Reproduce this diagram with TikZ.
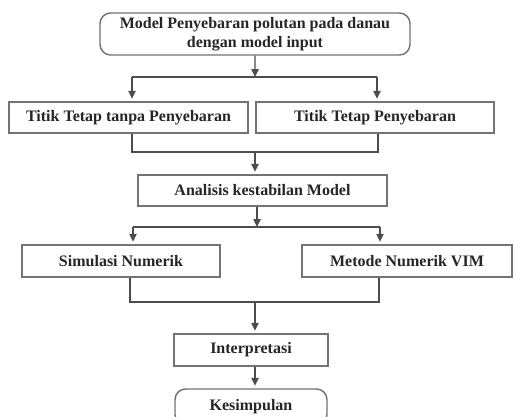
\documentclass[tikz,border=0pt]{standalone}
\usepackage{fontspec}
\setmainfont{Liberation Serif}
\usetikzlibrary{arrows.meta}

\begin{document}
\begin{tikzpicture}[x=1pt,y=1pt,scale=0.75,transform shape]
  \tikzstyle{BoxStyle}=[draw=black!55,line width=1.1pt,fill=white,inner sep=0pt,
    text=black!85,font=\bfseries\fontsize{16}{19}\selectfont]
  \tikzstyle{RoundStyle}=[BoxStyle,rounded corners=8pt]
  \tikzstyle{EdgeStyle}=[draw=black!70,line width=1pt]
  \tikzstyle{ArrowStyle}=[EdgeStyle,-{Triangle[length=6pt,width=5.5pt]},shorten >=2pt]
  \useasboundingbox (0,0) rectangle (514,-417);
  \node[RoundStyle,minimum width=310pt,minimum height=42pt,align=center] (model) at (255,-34)
    {Model Penyebaran polutan pada danau\\dengan model input};
  \node[BoxStyle,minimum width=239pt,minimum height=31pt] (tanpa) at (128.5,-117.5) {Titik Tetap tanpa Penyebaran};
  \node[BoxStyle,minimum width=238pt,minimum height=31pt] (tetap) at (375,-117.5) {Titik Tetap Penyebaran};
  \node[BoxStyle,minimum width=249pt,minimum height=31pt] (analisis) at (262.5,-190.5) {Analisis kestabilan Model};
  \node[BoxStyle,minimum width=198pt,minimum height=32pt] (simulasi) at (121,-261) {Simulasi Numerik};
  \node[BoxStyle,minimum width=210pt,minimum height=32pt] (vim) at (407,-261) {Metode Numerik VIM};
  \node[BoxStyle,minimum width=154pt,minimum height=32pt] (interp) at (251,-350) {Interpretasi};
  \node[RoundStyle,minimum width=152pt,minimum height=36pt] (kesimpulan) at (251,-407) {Kesimpulan};
  % junctions
  \coordinate (j1) at (255,-77);
  \coordinate (j1l) at (132,-77);
  \coordinate (j1r) at (377,-77);
  \coordinate (j2) at (255,-152);
  \coordinate (j2l) at (132,-152);
  \coordinate (j2r) at (378,-152);
  \coordinate (j3) at (257,-227);
  \coordinate (j3l) at (133,-227);
  \coordinate (j3r) at (380,-227);
  \coordinate (j4) at (255,-302);
  \coordinate (j4l) at (130,-302);
  \coordinate (j4r) at (379,-302);
  \draw[ArrowStyle,shorten >=0pt] (model) -- (j1);
  \draw[EdgeStyle] (j1l) -- (j1r);
  \draw[ArrowStyle] (j1l) -- (j1l |- tanpa.north);
  \draw[ArrowStyle] (j1r) -- (j1r |- tetap.north);
  \draw[EdgeStyle] (j2l |- tanpa.south) -- (j2l) -- (j2r) -- (j2r |- tetap.south);
  \draw[ArrowStyle] (j2) -- (j2 |- analisis.north);
  \draw[ArrowStyle,shorten >=0pt] (j3 |- analisis.south) -- (j3);
  \draw[EdgeStyle] (j3l) -- (j3r);
  \draw[ArrowStyle] (j3l) -- (j3l |- simulasi.north);
  \draw[ArrowStyle] (j3r) -- (j3r |- vim.north);
  \draw[EdgeStyle] (j4l |- simulasi.south) -- (j4l) -- (j4r) -- (j4r |- vim.south);
  \draw[ArrowStyle] (j4) -- (j4 |- interp.north);
  \draw[ArrowStyle] (j4 |- interp.south) -- (j4 |- kesimpulan.north);
\end{tikzpicture}
\end{document}
